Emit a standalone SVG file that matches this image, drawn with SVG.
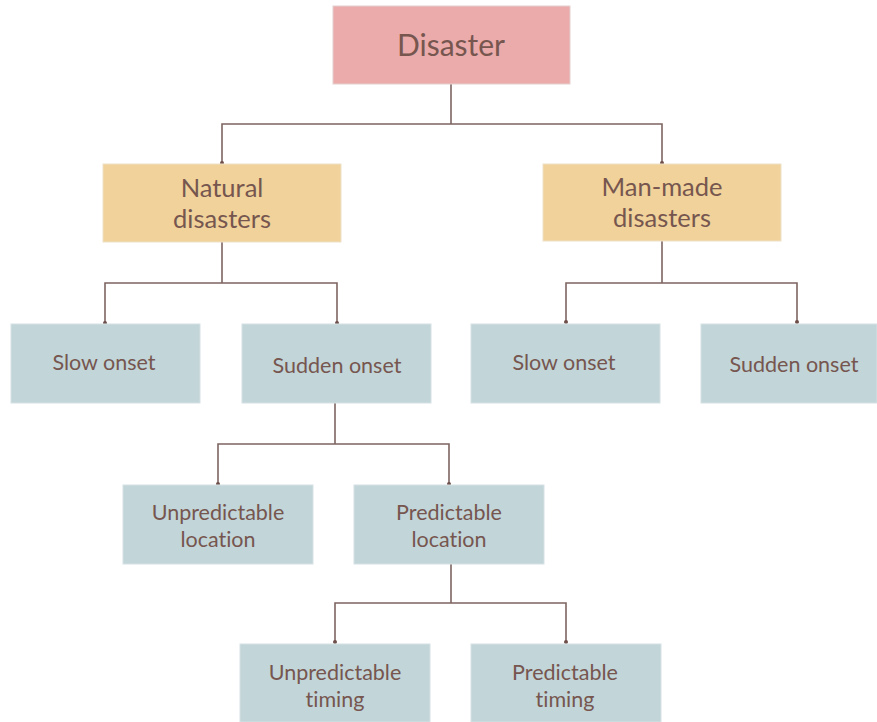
<svg xmlns="http://www.w3.org/2000/svg" width="877" height="722" viewBox="0 0 877 722">
<style>
.root{fill:#eaabaa;stroke:#e4d0cf;stroke-width:1}
.cat{fill:#f0d29a;stroke:#eee0c8;stroke-width:1}
.leaf{fill:#c2d5d8;stroke:#d6e2e4;stroke-width:1}
text{font-family:Lato,"Open Sans","Liberation Sans",sans-serif;fill:#76564f;text-anchor:middle;font-variant-ligatures:none}
.t1{font-size:30px}
.t2{font-size:25.5px}
.t3{font-size:21.5px}
.c{fill:none;stroke:#7d6461;stroke-width:1.6}
.d{fill:#6e4f4a}
</style>
<g id="connectors">
<path class="c" d="M451 84V124M222 164V124H662V164"/>
<path class="c" d="M222 242V283M105 324V283H337V324"/>
<path class="c" d="M662 241V283M566 323V283H797V323"/>
<path class="c" d="M335 403V444M218 485V444H449V485"/>
<path class="c" d="M451 564V603M335 643V603H566V643"/>
<circle class="d" cx="222" cy="163" r="2"/>
<circle class="d" cx="662" cy="163" r="2"/>
<circle class="d" cx="105" cy="323" r="2"/>
<circle class="d" cx="337" cy="323" r="2"/>
<circle class="d" cx="566" cy="322" r="2"/>
<circle class="d" cx="797" cy="322" r="2"/>
<circle class="d" cx="218" cy="484" r="2"/>
<circle class="d" cx="449" cy="484" r="2"/>
<circle class="d" cx="335" cy="642" r="2"/>
<circle class="d" cx="566" cy="642" r="2"/>
</g>
<g id="disaster"><rect class="root" x="333" y="6" width="237" height="78"/><text class="t1" x="451" y="56">Disaster</text></g>
<g id="natural"><rect class="cat" x="103" y="164" width="238" height="78"/><text class="t2" x="222" y="197">Natural</text><text class="t2" x="222" y="228">disasters</text></g>
<g id="manmade"><rect class="cat" x="543" y="164" width="238" height="77"/><text class="t2" x="662" y="196">Man-made</text><text class="t2" x="662" y="227">disasters</text></g>
<g id="nat-slow"><rect class="leaf" x="11" y="324" width="189" height="79"/><text class="t3" x="104" y="370">Slow onset</text></g>
<g id="nat-sudden"><rect class="leaf" x="242" y="324" width="189" height="79"/><text class="t3" x="337" y="373">Sudden onset</text></g>
<g id="man-slow"><rect class="leaf" x="471" y="324" width="189" height="79"/><text class="t3" x="564" y="370">Slow onset</text></g>
<g id="man-sudden"><rect class="leaf" x="701" y="324" width="176" height="79"/><text class="t3" x="794" y="372">Sudden onset</text></g>
<g id="unpred-loc"><rect class="leaf" x="123" y="485" width="190" height="79"/><text class="t3" x="218" y="520">Unpredictable</text><text class="t3" x="218" y="547">location</text></g>
<g id="pred-loc"><rect class="leaf" x="354" y="485" width="190" height="79"/><text class="t3" x="449" y="520">Predictable</text><text class="t3" x="449" y="547">location</text></g>
<g id="unpred-time"><rect class="leaf" x="240" y="644" width="190" height="78"/><text class="t3" x="335" y="680">Unpredictable</text><text class="t3" x="335" y="707">timing</text></g>
<g id="pred-time"><rect class="leaf" x="471" y="644" width="190" height="78"/><text class="t3" x="565" y="680">Predictable</text><text class="t3" x="565" y="707">timing</text></g>
</svg>
